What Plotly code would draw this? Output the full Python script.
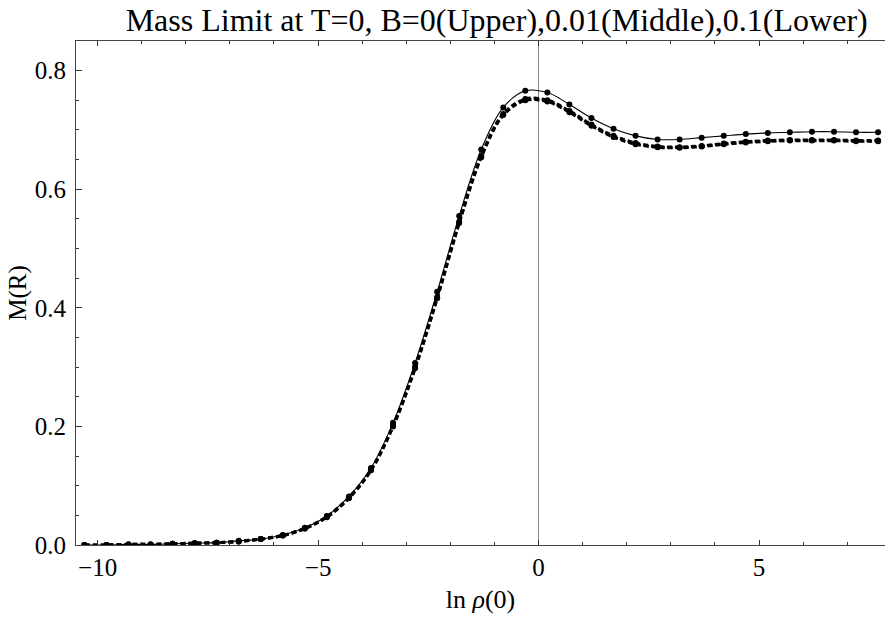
import plotly.graph_objects as go

# ln rho(0) sample points and the mass limit M(R) for each magnetic field strength
ln_rho = [-10.3, -9.8, -9.3, -8.8, -8.3, -7.8, -7.3, -6.8, -6.3, -5.8, -5.3, -4.8,
          -4.3, -3.8, -3.3, -2.8, -2.3, -1.8, -1.3, -0.8, -0.3, 0.2, 0.7, 1.2,
          1.7, 2.2, 2.7, 3.2, 3.7, 4.2, 4.7, 5.2, 5.7, 6.2, 6.7, 7.2, 7.7]

m_b0 = [0.000, 0.000, 0.001, 0.001, 0.002, 0.003, 0.004, 0.007, 0.010, 0.017, 0.029, 0.049,
        0.082, 0.130, 0.206, 0.307, 0.427, 0.555, 0.667, 0.738, 0.766, 0.763, 0.743, 0.720,
        0.702, 0.690, 0.684, 0.684, 0.687, 0.690, 0.693, 0.695, 0.696, 0.697, 0.697, 0.696, 0.696]

m_b001 = [0.000, 0.000, 0.001, 0.001, 0.002, 0.003, 0.004, 0.006, 0.010, 0.016, 0.028, 0.048,
          0.080, 0.127, 0.201, 0.300, 0.418, 0.545, 0.656, 0.727, 0.752, 0.750, 0.732, 0.709,
          0.690, 0.678, 0.672, 0.671, 0.673, 0.677, 0.680, 0.682, 0.683, 0.683, 0.683, 0.682, 0.682]

m_b01 = [0.000, 0.000, 0.001, 0.001, 0.002, 0.003, 0.004, 0.006, 0.010, 0.016, 0.028, 0.047,
         0.079, 0.126, 0.200, 0.298, 0.416, 0.543, 0.654, 0.725, 0.750, 0.748, 0.730, 0.707,
         0.688, 0.676, 0.671, 0.670, 0.672, 0.676, 0.679, 0.681, 0.682, 0.682, 0.682, 0.681, 0.681]

x_ticks = [-10, -5, 0, 5]
y_ticks = [0.0, 0.2, 0.4, 0.6, 0.8]

SERIF = "Liberation Serif, Times New Roman, serif"

fig = go.Figure()

# B = 0.1 (lower) and B = 0.01 (middle): thick dashed curves with sample dots
for name, vals in [("B=0.1", m_b01), ("B=0.01", m_b001)]:
    fig.add_trace(go.Scatter(
        x=ln_rho, y=vals, name=name, mode="lines+markers",
        line=dict(color="black", width=3.2, dash="5px,3px", shape="spline", smoothing=1.0),
        marker=dict(color="black", size=6),
    ))

# B = 0 (upper): thin solid curve with sample dots
fig.add_trace(go.Scatter(
    x=ln_rho, y=m_b0, name="B=0", mode="lines+markers",
    line=dict(color="black", width=1.1, shape="spline", smoothing=1.0),
    marker=dict(color="black", size=6),
))

fig.update_layout(
    width=885, height=617,
    margin=dict(l=76, r=0, t=41, b=72),
    paper_bgcolor="white", plot_bgcolor="white",
    showlegend=False,
    font=dict(family=SERIF, color="black", size=24),
    title=dict(
        text="Mass Limit at T=0, B=0(Upper),0.01(Middle),0.1(Lower)",
        x=0.52, xref="paper", xanchor="center",
        y=1 - 20 / 617, yref="container", yanchor="middle",
        font=dict(family=SERIF, size=32, color="black"),
    ),
)

fig.update_xaxes(
    range=[-10.49, 7.857],
    tickvals=x_ticks, ticktext=["\u221210", "\u22125", "0", "5"],
    ticks="inside", ticklen=5, tickwidth=1, tickcolor="#333",
    minor=dict(dtick=1, tick0=0, ticks="inside", ticklen=3, tickwidth=1, tickcolor="#333"),
    showline=True, linecolor="#444", linewidth=1, mirror="ticks",
    showgrid=False,
    zeroline=True, zerolinecolor="#888", zerolinewidth=1,
    tickfont=dict(family=SERIF, size=25),
    title=dict(text="ln <i>\u03c1</i>(0)", font=dict(family=SERIF, size=26), standoff=9),
)
fig.update_yaxes(
    range=[0, 0.85],
    tickvals=y_ticks, tickformat=".1f",
    ticks="inside", ticklen=6, tickwidth=1, tickcolor="#333",
    minor=dict(dtick=0.05, tick0=0, ticks="inside", ticklen=3, tickwidth=1, tickcolor="#333"),
    showline=True, linecolor="#444", linewidth=1, mirror=False,
    showgrid=False, zeroline=False,
    tickfont=dict(family=SERIF, size=25),
    ticklabelstandoff=4,
    title=dict(text="M(R)", font=dict(family=SERIF, size=25), standoff=1),
)

fig.write_html("out.html")
